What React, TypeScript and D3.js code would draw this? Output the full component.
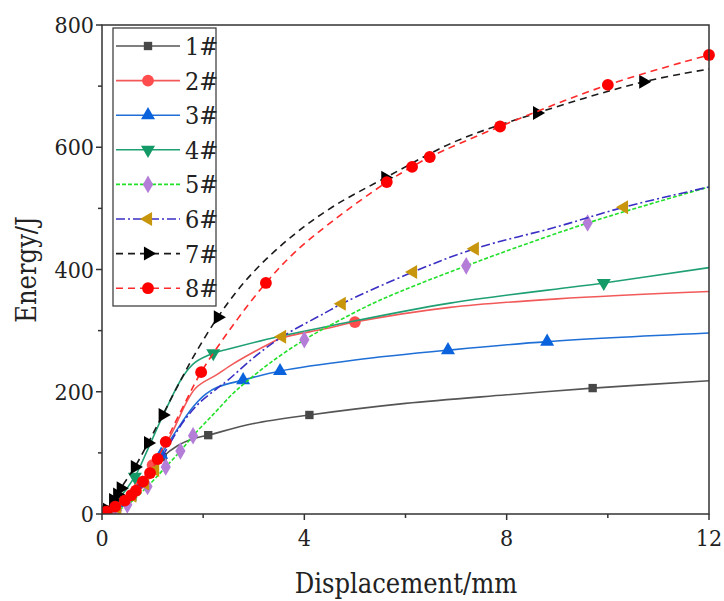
import React from "react";
import * as d3 from "d3";

const xTicks = [0, 4, 8, 12];
const xMinor = [2, 6, 10];
const yTicks = [0, 200, 400, 600, 800];
const yMinor = [100, 300, 500, 700];

const names = ["1#", "2#", "3#", "4#", "5#", "6#", "7#", "8#"];

// line data [displacement mm, energy J]
const line1 = [[0,0],[0.3,8],[0.6,28],[0.9,58],[1.2,93],[1.5,112],[1.8,123],[2.1,129],[3,148],[4.1,162],[6,181],[8,195],[9.7,206],[12,218]];
const line2 = [[0,0],[0.3,12],[0.6,35],[0.9,68],[1.34,126],[1.84,205],[2.27,228],[2.6,246],[3,265],[3.32,279],[3.55,288],[4.41,303],[5,314],[6.88,338],[9,352],[12,364]];
const line3 = [[0,0],[0.5,25],[0.9,60],[1.17,97],[1.5,140],[1.8,175],[2.05,196],[2.3,208],[2.79,219],[3.52,234],[5,252],[6.84,268],[8.8,282],[12,296]];
const line4 = [[0,0],[0.3,22],[0.65,61],[0.9,105],[1.2,160],[1.6,225],[1.84,248],[2.2,263],[2.6,272],[3.48,290],[4.41,306],[6.88,345],[9.92,378],[12,403]];
const line5 = [[0,0],[0.3,6],[0.5,15],[0.9,45],[1.26,77],[1.55,103],[1.8,128],[2.2,163],[2.6,198],[2.85,216],[3.32,247],[4,285],[4.7,317],[5.5,350],[7.2,406],[9.6,476],[12,535]];
const line6 = [[0,0],[0.5,22],[0.9,55],[1.2,95],[1.6,150],[1.94,183],[2.27,205],[2.49,219],[3,256],[3.56,290],[4.41,329],[4.74,344],[6.15,396],[7.37,434],[9,470],[10.32,502],[12,535]];
const line7 = [[0,0],[0.1,7],[0.22,23],[0.37,42],[0.65,77],[0.91,116],[1.2,162],[1.5,210],[1.84,262],[2.29,322],[2.7,368],[3.16,410],[3.81,458],[4.57,503],[5.6,550],[7,610],[8.6,656],[10.7,707],[12,728]];
const line8 = [[0,0],[0.26,12],[0.58,31],[0.81,53],[0.95,67],[1.26,118],[1.6,175],[1.96,232],[2.6,310],[3.24,378],[3.81,428],[4.57,480],[5.63,543],[6.13,568],[6.48,584],[7.87,634],[10,702],[12,751]];

// marker positions
const mark1 = [[0.6,28],[1.2,93],[2.1,129],[4.1,162],[9.7,206]];
const mark2 = [[0.15,5],[0.45,22],[0.75,50],[1.0,80],[5,314]];
const mark3 = [[0.4,18],[0.8,50],[1.17,97],[2.79,219],[3.52,234],[6.84,268],[8.8,282]];
const mark4 = [[0.3,22],[0.65,61],[2.2,263],[9.92,378]];
const mark5 = [[0.3,6],[0.5,15],[0.9,45],[1.26,77],[1.55,103],[1.8,128],[4,285],[7.2,406],[9.6,476]];
const mark6 = [[0.3,10],[0.6,30],[0.85,50],[1.05,72],[3.56,290],[4.74,344],[6.15,396],[7.37,434],[10.32,502]];
const mark7 = [[0.05,3],[0.1,7],[0.22,23],[0.3,32],[0.37,42],[0.65,77],[0.91,116],[1.2,162],[2.29,322],[5.6,550],[8.6,656],[10.7,707]];
const mark8 = [[0.08,4],[0.26,12],[0.45,22],[0.58,31],[0.67,38],[0.81,53],[0.95,67],[1.1,90],[1.26,118],[1.96,232],[3.24,378],[5.63,543],[6.13,568],[6.48,584],[7.87,634],[10,702],[12,751]];

const lines = [line1, line2, line3, line4, line5, line6, line7, line8];
const marks = [mark1, mark2, mark3, mark4, mark5, mark6, mark7, mark8];

const lineColors = ["#555555", "#f25a5a", "#1f6fd6", "#1fa073", "#22e02a", "#3a2fc4", "#1a1a1a", "#ff2a2a"];
const markColors = ["#474747", "#ff4d4d", "#0a63dc", "#139a66", "#b47ed8", "#c8960c", "#000000", "#ff0000"];
const dashes = [null, null, null, null, "4,2", "9,3,2,3", "7,5", "7,5"];
const symbols = ["square", "circle", "triangle", "down", "diamond", "left", "right", "circle"];

const W = 724, H = 601;
const M = { left: 102, right: 709, top: 25, bottom: 514 };
const SERIF = "DejaVu Serif";

function Marker({ kind, x, y, fill }: { kind: string; x: number; y: number; fill: string }) {
  let type: any = d3.symbolCircle;
  let size = 100;
  let rot = 0;
  if (kind === "square") { type = d3.symbolSquare; size = 70; }
  else if (kind === "circle") { type = d3.symbolCircle; size = 110; }
  else if (kind === "diamond") { type = d3.symbolDiamond; size = 90; }
  else { type = d3.symbolTriangle; size = 85; rot = kind === "down" ? 180 : kind === "left" ? -90 : kind === "right" ? 90 : 0; }
  const p = d3.symbol().type(type).size(size)() as string;
  return <path d={p} transform={`translate(${x},${y}) rotate(${rot})`} fill={fill} />;
}

export default function App() {
  const x = d3.scaleLinear().domain([0, 12]).range([M.left, M.right]);
  const y = d3.scaleLinear().domain([0, 800]).range([M.bottom, M.top]);
  const lineGen = d3.line<number[]>().x(d => x(d[0])).y(d => y(d[1])).curve(d3.curveCatmullRom.alpha(0.5));
  const legY0 = 46, legDy = 34.6;
  const cond = { fontStretch: "condensed" };

  return (
    <svg width={W} height={H} style={{ position: "absolute", left: 0, top: 0, background: "#fff" }}>
      <rect x={0} y={0} width={W} height={H} fill="#fff" />
      <defs>
        <clipPath id="plot">
          <rect x={M.left} y={M.top - 10} width={M.right - M.left + 10} height={M.bottom - M.top + 10} />
        </clipPath>
      </defs>
      <g clipPath="url(#plot)">
        {lines.map((ln, i) => (
          <g key={i}>
            <path d={lineGen(ln) as string} fill="none" stroke={lineColors[i]} strokeWidth={1.6}
              strokeDasharray={dashes[i] ?? undefined} />
            {marks[i].map((m, j) => (
              <Marker key={j} kind={symbols[i]} x={x(m[0])} y={y(m[1])} fill={markColors[i]} />
            ))}
          </g>
        ))}
      </g>
      <rect x={M.left} y={M.top} width={M.right - M.left} height={M.bottom - M.top} fill="none" stroke="#333" strokeWidth={1.5} />
      {xTicks.map(t => (
        <g key={"xt" + t}>
          <line x1={x(t)} x2={x(t)} y1={M.bottom} y2={M.bottom + 6} stroke="#333" strokeWidth={1.5} />
          <text x={x(t)} y={M.bottom + 32} textAnchor="middle" fontSize={23} fill="#222" fontFamily={SERIF} style={cond}>{t}</text>
        </g>
      ))}
      {xMinor.map(t => (
        <line key={"xm" + t} x1={x(t)} x2={x(t)} y1={M.bottom} y2={M.bottom + 4} stroke="#333" strokeWidth={1.5} />
      ))}
      {yTicks.map(t => (
        <g key={"yt" + t}>
          <line x1={M.left - 6} x2={M.left} y1={y(t)} y2={y(t)} stroke="#333" strokeWidth={1.5} />
          <text x={M.left - 8} y={y(t) + 8} textAnchor="end" fontSize={23} fill="#222" fontFamily={SERIF} style={cond}>{t}</text>
        </g>
      ))}
      {yMinor.map(t => (
        <line key={"ym" + t} x1={M.left - 4} x2={M.left} y1={y(t)} y2={y(t)} stroke="#333" strokeWidth={1.5} />
      ))}
      <text x={406} y={593} textAnchor="middle" fontSize={27} fill="#222" fontFamily={SERIF} style={cond}>Displacement/mm</text>
      <text transform={`translate(36, ${(M.top + M.bottom) / 2}) rotate(-90)`} textAnchor="middle" fontSize={27} fill="#222" fontFamily={SERIF} style={cond}>Energy/J</text>
      <rect x={113} y={28} width={103} height={278} fill="#fff" stroke="#333" strokeWidth={1.2} />
      {names.map((n, i) => {
        const ly = legY0 + i * legDy;
        return (
          <g key={n}>
            <line x1={116} x2={180} y1={ly} y2={ly} stroke={lineColors[i]} strokeWidth={1.6} strokeDasharray={dashes[i] ?? undefined} />
            <Marker kind={symbols[i]} x={148} y={ly} fill={markColors[i]} />
            <text x={185} y={ly + 9} fontSize={25} fill="#222" fontFamily={SERIF} style={cond}>{n}</text>
          </g>
        );
      })}
    </svg>
  );
}
